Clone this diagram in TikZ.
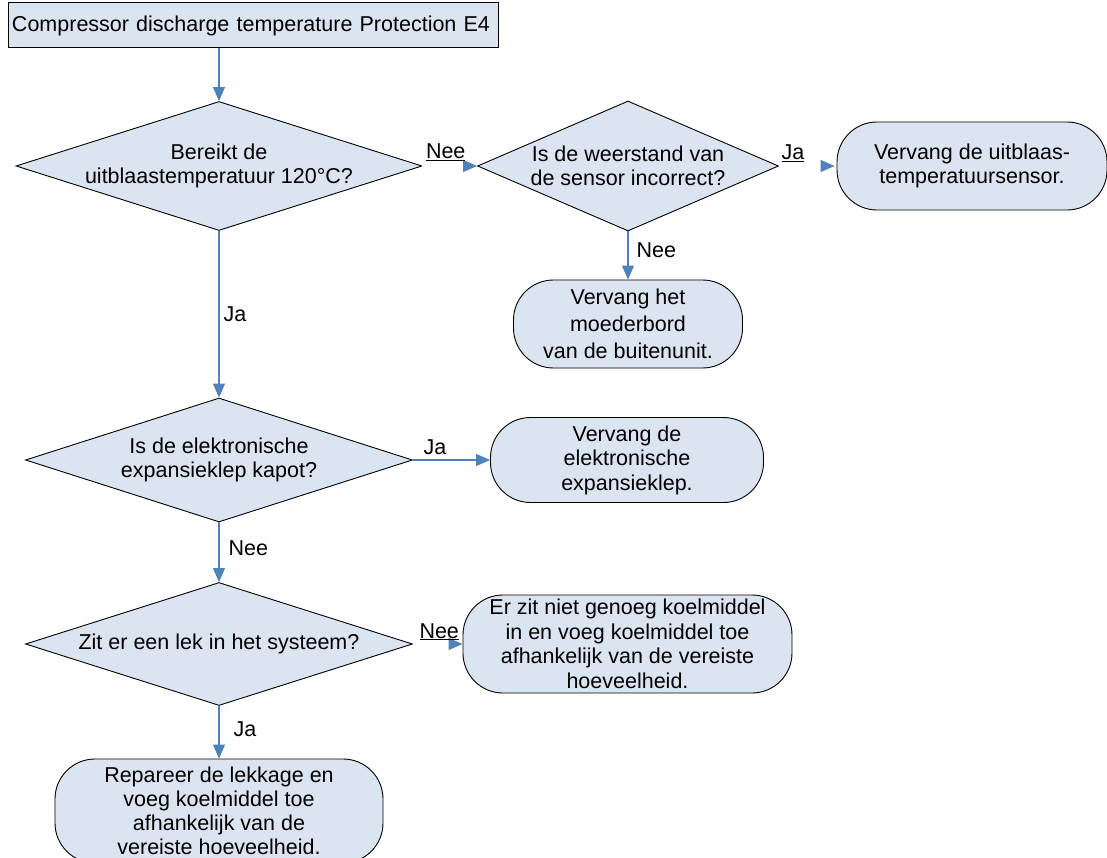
\documentclass[tikz,border=0pt]{standalone}
\usepackage{fontspec}
\setmainfont{Liberation Sans}
\usepackage{xcolor}
\usepackage{tikz}
\usetikzlibrary{arrows.meta, positioning, shapes.geometric}
\definecolor{shapefill}{HTML}{DBE5F1}
\definecolor{linkblue}{HTML}{4F81BD}

\begin{document}
\begin{tikzpicture}[x=1pt, y=-1pt,
    every node/.style={font=\fontsize{21.5}{24.5}\selectfont},
    startbox/.style={draw, fill=shapefill, line width=1pt, minimum height=45pt, text width=482pt, inner xsep=4pt, align=left},
    decision/.style={draw, diamond, fill=shapefill, line width=0.9pt, inner sep=0pt},
    dtext/.style={align=center, inner sep=0pt},
    term/.style={draw, rectangle, rounded corners=40pt, fill=shapefill, line width=0.9pt, align=center, inner sep=0pt},
    arr/.style={draw=linkblue, line width=1.1pt, -{Triangle[length=14pt, width=12pt]}},
    hid/.style={draw=white, line width=1.1pt, -{Triangle[length=14pt, width=12pt, color=linkblue]}},
    lbl/.style={inner sep=0pt},
]
\useasboundingbox (0,0) rectangle (1107,858);

% Start
\node[startbox] (S) at (253,25.5) {Compressor discharge temperature Protection E4};

% Decisions
\node[decision, minimum width=406pt, minimum height=129pt] (D1) at (219,166) {};
\node[dtext] (D1t) at (D1) {Bereikt de\\uitblaastemperatuur 120°C?};
\node[decision, minimum width=301pt, minimum height=130pt] (D2) at (628,166) {};
\node[dtext] (D2t) at (D2) {Is de weerstand van\\de sensor incorrect?};
\node[decision, minimum width=387pt, minimum height=124pt] (D3) at (219,460) {};
\node[dtext] (D3t) at (D3) {Is de elektronische\\expansieklep kapot?};
\node[decision, minimum width=387pt, minimum height=123pt] (D4) at (219,644) {};
\node[dtext] (D4t) at (D4) {Zit er een lek in het systeem?};

% Actions
\node[term, minimum width=270pt, minimum height=88pt] (T1) at (972,166) {Vervang de uitblaas-\\temperatuursensor.};
\node[term, minimum width=229pt, minimum height=88pt, font=\fontsize{21.5}{27}\selectfont] (T2) at (628,324) {Vervang het\\moederbord\\van de buitenunit.};
\node[term, minimum width=273pt, minimum height=85pt] (T3) at (627,460) {Vervang de\\elektronische\\expansieklep.};
\node[term, minimum width=329pt, minimum height=98pt] (T4) at (627.5,644) {Er zit niet genoeg koelmiddel\\in en voeg koelmiddel toe\\afhankelijk van de vereiste\\hoeveelheid.};
\node[term, minimum width=328pt, minimum height=104pt, font=\fontsize{21.5}{24}\selectfont] (T5) at (219,811) {Repareer de lekkage en\\voeg koelmiddel toe\\afhankelijk van de\\vereiste hoeveelheid.};

% Arrows
\draw[arr] (S.south -| D1.north) -- (D1.north);
\draw[hid] (D1.east) -- (D2.west) node[lbl, at start, anchor=base west, xshift=3pt, yshift=7pt] {\underline{Nee}};
\draw[hid, shorten >=2pt] (D2.east) -- (T1.west) node[lbl, at start, anchor=base west, xshift=2pt, yshift=6pt] {\underline{Ja}};
\draw[arr] (D2.south) -- (T2.north) node[lbl, midway, anchor=west, xshift=8pt, yshift=5pt] {Nee};
\draw[arr] (D1.south) -- (D3.north) node[lbl, midway, anchor=west, xshift=4pt] {Ja};
\draw[arr] (D3.east) -- (T3.west) node[lbl, at start, anchor=west, xshift=10pt, yshift=13pt] {Ja};
\draw[arr] (D3.south) -- (D4.north) node[lbl, midway, anchor=west, xshift=9pt, yshift=4pt] {Nee};
\draw[hid] (D4.east) -- (T4.west) node[lbl, at start, anchor=base west, xshift=6pt, yshift=6pt] {\underline{Nee}};
\draw[arr] (D4.south) -- (T5.north) node[lbl, midway, anchor=west, xshift=14pt, yshift=3pt] {Ja};

\end{tikzpicture}
\end{document}
